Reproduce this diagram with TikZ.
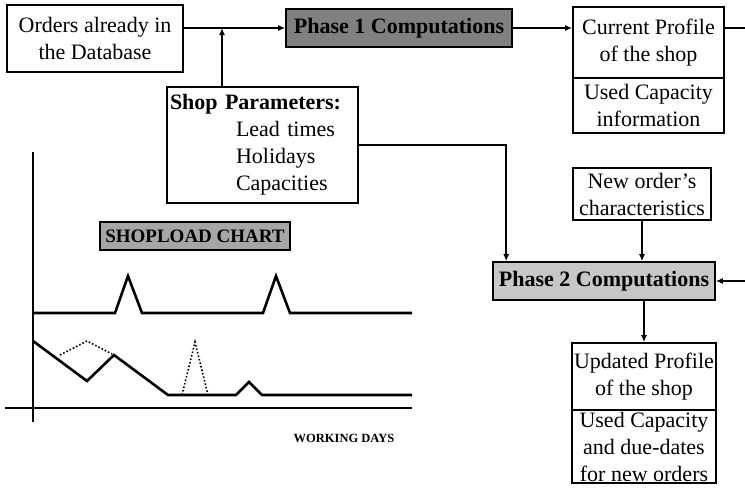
\documentclass[tikz,border=0pt]{standalone}
\usepackage{fontspec}
\setmainfont{Liberation Serif}
\usetikzlibrary{arrows.meta}

\begin{document}
\begin{tikzpicture}[x=1pt, y=-1pt, font=\fontsize{22}{27}\selectfont,
    box/.style={draw, line width=1.6pt, align=center, inner sep=2pt},
    phasebox/.style={box, fill=black!50, font=\fontsize{22}{27}\selectfont\bfseries},
    link/.style={draw, line width=1.6pt},
    arr/.style={link, -{Latex[length=7pt, width=6pt]}},
    axisline/.style={draw, line width=1.4pt},
    load/.style={draw, line width=2.6pt, line join=miter},
    proj/.style={draw, line width=1.6pt, dotted},
  ]
  \useasboundingbox (0,0) rectangle (745,491);

  % inputs and phase 1
  \node[box, minimum width=176, minimum height=67] (orders) at (95,38.5) {Orders already in\\the Database};
  \node[phasebox, minimum width=226, minimum height=38] (phase1) at (399,28) {Phase 1 Computations};
  \node[box, minimum width=191, minimum height=116, text width=185, align=left] (shop) at (262.5,145)
    {\textbf{Shop Parameters:}\\\hspace*{66pt}Lead times\\\hspace*{66pt}Holidays\\\hspace*{66pt}Capacities};
  \coordinate (join) at (222,28);

  % current profile, two parts
  \node[box, minimum width=151, minimum height=71] (curprof) at (648.5,42.5) {Current Profile\\of the shop};
  \node[box, minimum width=151, minimum height=55] (curcap) at (648.5,105.5) {Used Capacity\\information};
  \coordinate (rimtop) at (745,28);

  % phase 2
  \node[box, minimum width=138, minimum height=52] (neworder) at (642,194) {New order's\\characteristics};
  \node[phasebox, fill=black!22, minimum width=222, minimum height=38] (phase2) at (604,281) {Phase 2 Computations};
  \coordinate (rimlow) at (745,281);

  % updated profile, two parts
  \node[box, minimum width=144, minimum height=67] (updprof) at (644,376.5) {Updated Profile\\of the shop};
  \node[box, minimum width=144, minimum height=73] (updcap) at (644,446.5) {Used Capacity\\and due-dates\\for new orders};

  % connectors
  \draw[arr] (orders.east |- phase1.west) -- (phase1.west);
  \draw[arr] (shop.north -| join) -- (join);
  \draw[arr] (phase1.east) -- (phase1.east -| curprof.west);
  \draw[link] (curprof.east |- rimtop) -- (rimtop);
  \draw[arr] (shop.east) -| ([xshift=14pt]phase2.north west);
  \draw[arr] (neworder.south) -- (neworder.south |- phase2.north);
  \draw[arr] (rimlow) -- (phase2.east);
  \draw[arr] (updprof.north |- phase2.south) -- (updprof.north);

  % shopload chart
  \node[box, fill=black!35, minimum width=190, minimum height=28, inner sep=1pt, font=\fontsize{19}{21}\selectfont\bfseries] (chart) at (195,236) {SHOPLOAD CHART};
  \draw[axisline] (5,408) -- (412,408);
  \draw[axisline] (33,152) -- (33,422);
  \draw[load] (33,313) -- (115,313) -- (128,276) -- (142,313) -- (263,313) -- (276,276) -- (290,313) -- (412,313);
  \draw[load] (33,341) -- (87,381) -- (114,355) -- (168,395) -- (236,395) -- (249,382) -- (262,395) -- (412,395);
  \draw[proj] (60,355) -- (87,341) -- (112,354);
  \draw[proj] (182,395) -- (195,342) -- (208,395);
  \node[font=\fontsize{12.5}{14}\selectfont\bfseries] (days) at (344,438) {WORKING DAYS};
\end{tikzpicture}
\end{document}
